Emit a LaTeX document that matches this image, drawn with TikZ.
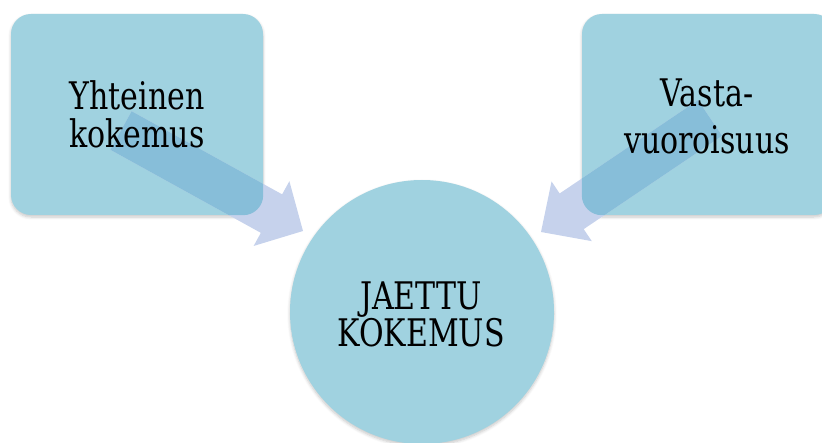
\documentclass[tikz,border=0pt]{standalone}
\usepackage{fontspec}
\setmainfont{DejaVu Serif}[FakeStretch=0.79]
\usetikzlibrary{calc,shadows.blur}

\definecolor{boxfill}{HTML}{A0D2E0}
\definecolor{arrowfill}{HTML}{C6D2EC}
\definecolor{arrowdeep}{HTML}{87BED9}

% outline of a block arrow: tail centre, head base centre, tip, half shaft, half head
\newcommand\arrowoutline[5]{%
  ($(#1)!#4!90:(#3)$) -- ($(#2)!#4!90:(#3)$) -- ($(#2)!#5!90:(#3)$) -- (#3)
  -- ($(#2)!#5!-90:(#3)$) -- ($(#2)!#4!-90:(#3)$) -- ($(#1)!#4!-90:(#3)$) -- cycle}

\tikzset{
  softshadow/.style={blur shadow={shadow blur steps=6, shadow xshift=0pt,
      shadow yshift=-2pt, shadow opacity=22, shadow blur radius=3pt}},
  tile/.style={fill=boxfill, rounded corners=20pt, minimum width=252pt,
      minimum height=201pt, inner sep=0pt, softshadow},
  hub/.style={circle, fill=boxfill, minimum size=264pt, inner sep=0pt, softshadow},
  word/.style={font=\fontsize{38}{40}\selectfont, inner sep=0pt, anchor=base},
}

\begin{document}
\begin{tikzpicture}[x=1pt, y=-1pt]
  \useasboundingbox (0,0) rectangle (822,443);

  % boxes and centre circle
  \node[tile] (lbox) at (137,114.5) {};
  \node[tile] (rbox) at (708,114.5) {};
  \node[hub]  (hub)  at (422,312) {};

  % arrow geometry
  \coordinate (ltail) at ($(lbox.center)+(-16,16)$);
  \coordinate (ltip)  at (303,231);
  \coordinate (lhead) at ($(ltip)!36pt!(ltail)$);
  \coordinate (rtail) at ($(rbox.center)+(2,3.5)$);
  \coordinate (rtip)  at (541,232);
  \coordinate (rhead) at ($(rtip)!37pt!(rtail)$);

  % left arrow, deeper where it lies over the box
  \fill[arrowfill] \arrowoutline{ltail}{lhead}{ltip}{22pt}{37pt};
  \begin{scope}
    \clip[rounded corners=20pt] (lbox.south west) rectangle (lbox.north east);
    \fill[arrowdeep] \arrowoutline{ltail}{lhead}{ltip}{22pt}{37pt};
  \end{scope}

  % right arrow
  \fill[arrowfill] \arrowoutline{rtail}{rhead}{rtip}{21.5pt}{36pt};
  \begin{scope}
    \clip[rounded corners=20pt] (rbox.south west) rectangle (rbox.north east);
    \fill[arrowdeep] \arrowoutline{rtail}{rhead}{rtip}{21.5pt}{36pt};
  \end{scope}

  % labels
  \node[word] (l1) at (137,110) {Yhteinen};
  \node[word] (l2) at (137,148) {kokemus};
  \node[word] (r1) at (707,107) {Vasta-};
  \node[word] (r2) at (707,154) {vuoroisuus};
  \node[word] (c1) at (421,310) {JAETTU};
  \node[word] (c2) at (421,347) {KOKEMUS};
\end{tikzpicture}
\end{document}
